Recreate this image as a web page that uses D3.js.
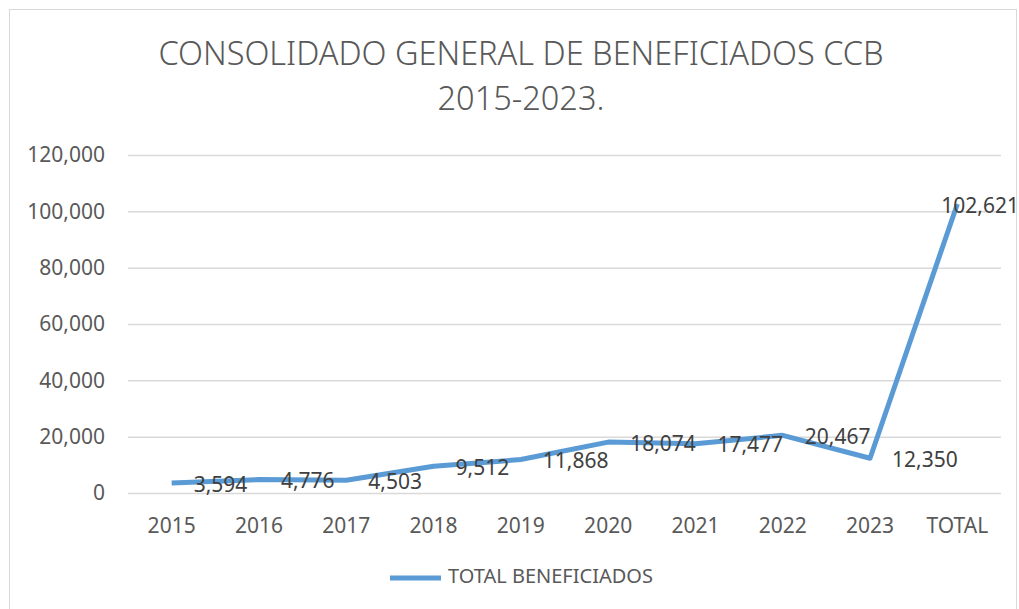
<!DOCTYPE html>
<meta charset="utf-8">
<head>
  <title>Consolidado beneficiados</title>
  <script src="https://d3js.org/d3.v7.min.js"></script>
  <style>
    body { margin: 0; background: #fff; }
    svg { display: block; }
    .tick text { font-family: "Noto Sans", sans-serif; font-size: 21px; fill: #595959; }
    .label-val { font-family: "Noto Sans", sans-serif; font-size: 21px; fill: #404040; }
  </style>
</head>
<body>
<svg></svg>
<script>
var categories = ["2015", "2016", "2017", "2018", "2019", "2020", "2021", "2022", "2023", "TOTAL"];
var values = [3594, 4776, 4503, 9512, 11868, 18074, 17477, 20467, 12350, 102621];
var yTicks = [0, 20000, 40000, 60000, 80000, 100000, 120000];
var titleLines = ["CONSOLIDADO GENERAL DE BENEFICIADOS CCB", "2015-2023."];
var seriesName = "TOTAL BENEFICIADOS";

var W = 1019, H = 609;
var margin = {top: 155, right: 18, bottom: 116, left: 128};
var width = W - margin.left - margin.right;
var height = H - margin.top - margin.bottom;

var svg = d3.select("svg").attr("width", W).attr("height", H);

// chart frame
svg.append("rect")
    .attr("x", 9.5).attr("y", 9.5)
    .attr("width", 1007).attr("height", 620)
    .attr("fill", "none").attr("stroke", "#d9d9d9");

// title, one text per line
svg.selectAll(".title").data(titleLines).enter().append("text")
    .attr("class", "title")
    .attr("x", 521).attr("y", function(d, i) { return 56 + i * 45; })
    .attr("dominant-baseline", "middle")
    .attr("text-anchor", "middle")
    .style("font-family", "'Noto Sans', sans-serif")
    .style("font-size", "32.5px").style("font-weight", 300)
    .style("fill", "#595959")
    .text(function(d) { return d; });

var x = d3.scaleBand().domain(categories).range([0, width]);
var y = d3.scaleLinear().domain([0, 120000]).range([height, 0]);

var g = svg.append("g").attr("transform", "translate(" + margin.left + "," + margin.top + ")");

// gridlines + y axis
var yAxis = d3.axisLeft(y).tickValues(yTicks).tickSize(-width).tickPadding(23)
    .tickFormat(d3.format(","));
g.append("g").attr("class", "y axis").call(yAxis)
    .call(function(s) { s.select(".domain").remove(); })
    .call(function(s) { s.selectAll(".tick line").attr("stroke", "#d9d9d9").attr("stroke-width", 1.5); });

var xAxis = d3.axisBottom(x).tickSize(0).tickPadding(25);
g.append("g").attr("class", "x axis").attr("transform", "translate(0," + height + ")").call(xAxis)
    .call(function(s) { s.select(".domain").remove(); });

var pts = categories.map(function(c, i) { return {cat: c, v: values[i]}; });

var line = d3.line()
    .x(function(d) { return x(d.cat) + x.bandwidth() / 2; })
    .y(function(d) { return y(d.v); });

g.append("path").datum(pts)
    .attr("d", line)
    .attr("fill", "none")
    .attr("stroke", "#5b9bd5")
    .attr("stroke-width", 5)
    .attr("stroke-linejoin", "round");

// data labels, right of each point
g.selectAll(".label-val").data(pts).enter().append("text")
    .attr("class", "label-val")
    .attr("x", function(d) { return x(d.cat) + x.bandwidth() / 2 + 22; })
    .attr("y", function(d) { return y(d.v) + 3; })
    .attr("dominant-baseline", "middle")
    .text(function(d) { return d3.format(",")(d.v); })
    .each(function() {
      var el = d3.select(this);
      var w = this.getComputedTextLength();
      var maxX = W - margin.left;
      if (+el.attr("x") + w > maxX) el.attr("x", maxX - w);
    });

// legend
var leg = svg.append("g").attr("transform", "translate(390,578)");
leg.append("line").attr("x1", 0).attr("x2", 51).attr("y1", 0).attr("y2", 0)
    .attr("stroke", "#5b9bd5").attr("stroke-width", 5);
leg.append("text").attr("x", 58).attr("y", 0)
    .attr("dominant-baseline", "middle")
    .style("font-family", "'Noto Sans', sans-serif").style("font-size", "20px")
    .style("fill", "#595959")
    .text(seriesName);
</script>
</body>
